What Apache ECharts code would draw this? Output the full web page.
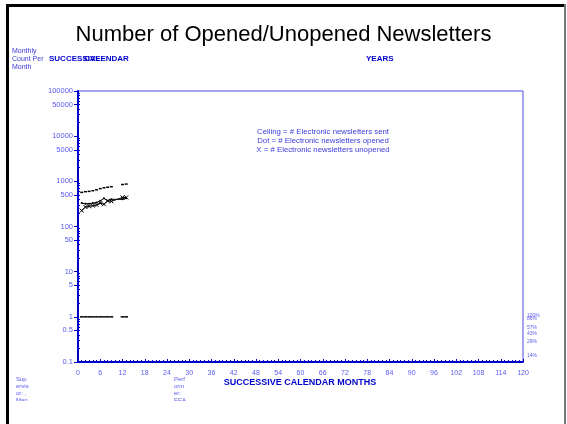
<!DOCTYPE html>
<html><head><meta charset="utf-8">
<script src="https://cdn.jsdelivr.net/npm/echarts@6/dist/echarts.min.js"></script>
<style>html,body{margin:0;padding:0;background:#fff}#c{width:567px;height:424px}</style>
</head><body><div id="c"></div>
<script>
// Data
const months = [1, 2, 3, 4, 5, 6, 7, 8, 9, 12, 13];
const sent = [570, 590, 600, 620, 650, 690, 720, 740, 760, 850, 870];
const opened = [330, 320, 320, 330, 340, 370, 420, 370, 400, 400, 420];
const unopened = [225, 270, 280, 290, 300, 330, 310, 370, 360, 440, 440];
const baseline = [1, 1, 1, 1, 1, 1, 1, 1, 1, 1, 1];
const yLabelValues = [0.1, 0.5, 1, 5, 10, 50, 100, 500, 1000, 5000, 10000, 50000, 100000];
const pctLabels = ['100%', '86%', '57%', '43%', '29%', '14%'];
const pctY = [316, 319.5, 328.5, 334, 342, 356];

const minorVals = [];
for (let e = -1; e <= 4; e++) for (let k = 2; k <= 9; k++) minorVals.push(+(k * Math.pow(10, e)).toPrecision(3));

const blue = '#0000cc';
const lblBlue = '#5b5bf0';
const txtBlue = '#3a3ad8';

function makeDash(half) {
  return function (params, api) {
    const m = api.value(0), v = api.value(1);
    const p1 = api.coord([m - half, v]);
    const p2 = api.coord([m + half, v]);
    return { type: 'line', shape: { x1: p1[0], y1: p1[1], x2: p2[0], y2: p2[1] }, style: { stroke: '#000', lineWidth: 1.5 } };
  };
}

const chart = echarts.init(document.getElementById('c'), null, { renderer: 'canvas' });
const ff = 'Liberation Sans, Arial, sans-serif';
const graphics = [
  { type: 'rect', shape: { x: 6, y: 4, width: 3, height: 420 }, style: { fill: '#000' }, z: 100 },
  { type: 'rect', shape: { x: 6, y: 4, width: 560, height: 3 }, style: { fill: '#000' }, z: 100 },
  { type: 'rect', shape: { x: 564, y: 4, width: 2, height: 420 }, style: { fill: '#777' }, z: 100 },
  { type: 'text', left: 12, top: 47, style: { text: 'Monthly\nCount Per\nMonth', font: '7px ' + ff, fill: txtBlue, lineHeight: 8 } },
  { type: 'text', left: 49, top: 55, style: { text: 'SUCCESSIVE', font: 'bold 8px ' + ff, fill: blue } },
  { type: 'text', left: 84, top: 55, style: { text: 'CALENDAR', font: 'bold 8px ' + ff, fill: blue } },
  { type: 'text', left: 366, top: 55, style: { text: 'YEARS', font: 'bold 8px ' + ff, fill: blue } },
  { type: 'text', x: 323, y: 127, style: { text: 'Ceiling = # Electronic newsletters sent\nDot = # Electronic newsletters opened\nX = # Electronic newsletters unopened', font: '7.8px ' + ff, fill: txtBlue, align: 'center', lineHeight: 9 } },
  { type: 'text', x: 300, y: 378, style: { text: 'SUCCESSIVE CALENDAR MONTHS', font: 'bold 9px ' + ff, fill: blue, align: 'center' } },
  { type: 'text', left: 16, top: 376, style: { text: 'Sup\nervis\nor: ,\nMan', font: '6px ' + ff, fill: lblBlue, lineHeight: 7 } },
  { type: 'text', left: 174, top: 376, style: { text: 'Perf\norm\ner:\nEEA', font: '6px ' + ff, fill: lblBlue, lineHeight: 7 } },
  { type: 'rect', shape: { x: 10, y: 401, width: 550, height: 23 }, style: { fill: '#fff' }, z: 50 }
];
pctLabels.forEach((t, i) => graphics.push({ type: 'text', x: 527, y: pctY[i] - 3, style: { text: t, font: '5px ' + ff, fill: lblBlue } }));

chart.setOption({
  animation: false,
  backgroundColor: '#fff',
  title: { text: 'Number of Opened/Unopened Newsletters', left: 'center', top: 19, textStyle: { fontFamily: ff, fontSize: 22, fontWeight: 'normal', color: '#000' } },
  grid: { left: 78, right: 44, top: 91, bottom: 62, show: true, borderColor: '#4a4ae0', borderWidth: 1 },
  xAxis: {
    type: 'value', min: 0, max: 120, interval: 6,
    axisLine: { lineStyle: { color: blue, width: 2 } },
    axisTick: { inside: true, length: 3, lineStyle: { color: blue } },
    minorTick: { show: true, splitNumber: 6, length: 2, lineStyle: { color: blue } },
    axisLabel: { fontSize: 7, color: lblBlue, fontFamily: ff, margin: 8 },
    splitLine: { show: false }
  },
  yAxis: [{
    type: 'log', logBase: 10, min: 0.1, max: 100000,
    axisLine: { show: true, lineStyle: { color: blue, width: 2 } },
    axisTick: { show: true, customValues: yLabelValues, length: 4, lineStyle: { color: blue } },
    axisLabel: { customValues: yLabelValues, fontSize: 7.5, color: lblBlue, fontFamily: ff, margin: 5, formatter: v => String(+v.toPrecision(6)) },
    splitLine: { show: false }
  }, {
    type: 'log', logBase: 10, min: 0.1, max: 100000, position: 'left',
    axisLine: { show: false },
    axisTick: { show: true, inside: true, customValues: minorVals, length: 2, lineStyle: { color: blue } },
    axisLabel: { show: false },
    splitLine: { show: false }
  }],
  graphic: graphics,
  series: [
    { name: 'Sent', type: 'custom', renderItem: makeDash(0.4), data: months.map((m, i) => [m, sent[i]]) },
    { name: 'Baseline', type: 'custom', renderItem: makeDash(0.5), data: months.map((m, i) => [m, baseline[i]]) },
    { name: 'Opened', type: 'line', data: months.map((m, i) => [m, opened[i]]), symbol: 'circle', symbolSize: 2, lineStyle: { color: '#000', width: 1 }, itemStyle: { color: '#000' } },
    { name: 'Unopened', type: 'line', data: months.map((m, i) => [m, unopened[i]]), symbol: 'path://M0,0L10,10M10,0L0,10', symbolSize: 4, lineStyle: { color: '#000', width: 1 }, itemStyle: { color: 'none', borderColor: '#000', borderWidth: 1 } }
  ]
});
</script></body></html>
